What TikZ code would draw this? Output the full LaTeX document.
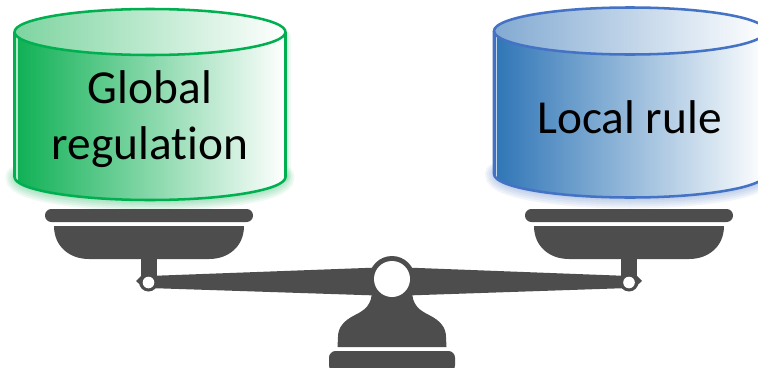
\documentclass[tikz,border=0pt]{standalone}
\usepackage{fontspec}
\setmainfont[Ligatures=NoCommon]{Carlito}
\definecolor{scalegray}{RGB}{77,77,77}
\definecolor{gdeep}{RGB}{14,176,84}
\definecolor{gtop}{RGB}{125,212,160}
\definecolor{gline}{RGB}{0,176,80}
\definecolor{bdeep}{RGB}{46,117,182}
\definecolor{btop}{RGB}{130,170,210}
\definecolor{bline}{RGB}{68,114,196}
\tikzset{
  scalepart/.style={fill=scalegray,draw=none},
  hole/.style={fill=white,draw=none},
  cyltext/.style={font=\fontsize{35.5}{42}\selectfont,align=center,text=black,inner sep=0pt}
}
% #1 cx, #2 rx, #3 top centre y, #4 ry, #5 lower centre y, #6 side colour, #7 top colour, #8 line colour
\newcommand{\cylinderbody}[8]{
  \foreach \w in {22,18,14,10,6}{
    \draw[#8,opacity=0.07,line width=\w*0.75pt,line cap=round]
      ([xshift=1.5pt]#1-#2,#5) arc[start angle=180,end angle=0,x radius=#2-2,y radius=#4];
  }
  \foreach \w in {10,7,4}{
    \draw[#8,opacity=0.06,line width=\w*0.75pt,line cap=round]
      (#1+#2,#3+4) -- (#1+#2,#5);
  }
  \shade[left color=#6,right color=white]
    (#1-#2,#3) -- (#1-#2,#5) arc[start angle=180,end angle=0,x radius=#2,y radius=#4]
    -- (#1+#2,#3) arc[start angle=0,end angle=180,x radius=#2,y radius=#4] -- cycle;
  \draw[white,opacity=0.7,line width=0.9pt] (#1-#2+2.5,#3+5) -- (#1-#2+2.5,#5+3);
  \shade[left color=#7,right color=white]
    (#1,#3) ellipse[x radius=#2,y radius=#4];
  \draw[#8,line width=1.9pt,line join=round]
    (#1-#2,#3) -- (#1-#2,#5) arc[start angle=180,end angle=0,x radius=#2,y radius=#4] -- (#1+#2,#3);
  \draw[#8,line width=1.9pt] (#1,#3) ellipse[x radius=#2,y radius=#4];
}
% #1 centre x of the pan
\newcommand{\scalepan}[1]{
  \fill[scalepart,rounded corners=4.8pt] (#1-104,209) rectangle (#1+104,222);
  \fill[scalepart] (#1-95,226) -- (#1+95,226)
     .. controls (#1+95,246) and (#1+80,259) .. (#1+60,259)
     -- (#1-60,259) .. controls (#1-80,259) and (#1-95,246) .. (#1-95,226) -- cycle;
  \fill[scalepart] (#1-8,258) rectangle (#1+8,282);
}
\begin{document}
\begin{tikzpicture}[x=0.75pt,y=-0.75pt]
\useasboundingbox[fill=white] (0,0) rectangle (758,368);
\begin{scope}
\clip (0,0) rectangle (758,368);
\cylinderbody{150}{135.5}{32}{23}{177}{gdeep}{gtop}{gline}
\cylinderbody{630}{136}{31}{23.5}{174}{bdeep}{btop}{bline}
\end{scope}
\node[cyltext] (global) at (150,119) {Global\\regulation};
\node[cyltext] (local) at (629.5,117) {Local rule};
% scale
\scalepan{149}
\scalepan{629}
\fill[scalepart] (148.5,276) -- (392,267) -- (629,276) -- (629,288) -- (392,296) -- (148.5,288) -- cycle;
% left and right pivots
\fill[scalepart] (148.5,282) circle[radius=9.5];
\fill[scalepart] (136,281) -- (142,275) -- (146,290) -- cycle;
\fill[scalepart] (629,282) circle[radius=9.5];
\fill[scalepart] (642,281) -- (636,275) -- (632,290) -- cycle;
\fill[hole] (148.5,282.5) circle[radius=5.8];
\fill[hole] (629,282.5) circle[radius=5.8];
% base
\fill[scalepart] (372,290) .. controls (372,305) and (365,310) .. (355,315)
  .. controls (343,321) and (338,328) .. (338,337) -- (337.5,347) -- (446.5,347) -- (446,337)
  .. controls (446,328) and (441,321) .. (429,315)
  .. controls (419,310) and (412,305) .. (412,290) -- cycle;
\fill[scalepart,rounded corners=5pt] (329,351) rectangle (455,372);
\fill[scalepart] (392,279) circle[radius=23];
\fill[hole] (392,279) circle[radius=18];
\end{tikzpicture}
\end{document}
